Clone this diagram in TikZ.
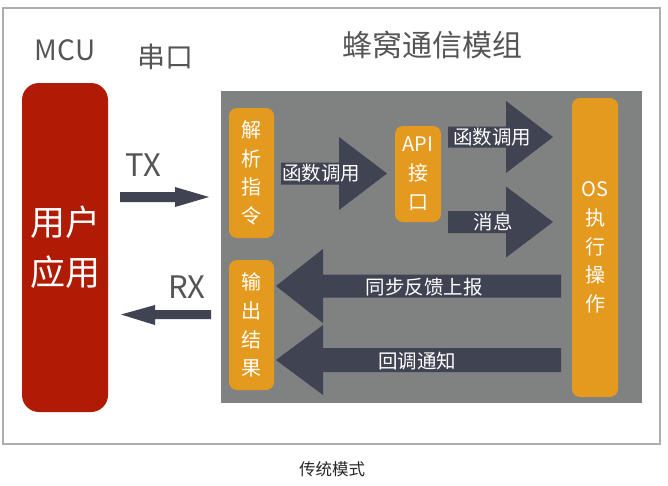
\documentclass[tikz,border=0pt]{standalone}
\usepackage{fontspec}
\setmainfont{Noto Sans CJK SC}
\definecolor{panelgray}{HTML}{808281}
\definecolor{boxorange}{HTML}{E49A1E}
\definecolor{arrowdark}{HTML}{3F4352}
\definecolor{appred}{HTML}{B01B05}
\definecolor{titlegray}{HTML}{555555}
\newcommand{\myfatarrow}[8]{%
  \fill[arrowdark] (#1,#4-#5) -- (#2,#4-#5) -- (#2,#4-#6) -- (#3,#4) -- (#2,#4+#6) -- (#2,#4+#5) -- (#1,#4+#5) -- cycle;
  \node[arrowlabel] at (#7,#4) {#8};}
\begin{document}
\begin{tikzpicture}[x=1pt,y=-1pt,
  orangebox/.style={fill=boxorange, rounded corners=8pt, inner sep=0pt, text=white, align=center,
    font=\fontsize{20}{28.8}\selectfont},
  arrowlabel/.style={text=white, inner sep=0pt, font=\fontsize{19.5}{22}\selectfont},
  titletext/.style={text=titlegray, inner sep=0pt}]
\useasboundingbox (0,0) rectangle (668,485);
% outer frame
\draw[draw=black!32, line width=1.3pt] (3,8) rectangle (660,444);
% titles
\node[titletext, font=\fontsize{28}{30}\selectfont] (mcu) at (65,50) {MCU};
\node[titletext, font=\fontsize{28}{30}\selectfont] (uart) at (165,57) {串口};
\node[titletext, font=\fontsize{30}{32}\selectfont] (module) at (432,45) {蜂窝通信模组};
% MCU application box
\node[fill=appred, rounded corners=17pt, minimum width=86pt, minimum height=329pt, inner sep=0pt,
  text=white, align=center, font=\fontsize{35}{50}\selectfont] (app) at (65,247.5) {用户\\应用};
% gray panel
\node[fill=panelgray, minimum width=421pt, minimum height=312pt, inner sep=0pt] (panel) at (431.5,247) {};
% orange boxes
\node[orangebox, minimum width=45pt, minimum height=130pt] (parse) at (251.5,173) {解\\析\\指\\令};
\node[orangebox, minimum width=45pt, minimum height=130pt] (out) at (251.5,325) {输\\出\\结\\果};
\node[orangebox, minimum width=46pt, minimum height=96pt] (api) at (418,174) {API\\接\\口};
\node[orangebox, minimum width=46pt, minimum height=299pt] (os) at (595,247.5) {OS\\执\\行\\操\\作};
% TX / RX
\node[titletext, font=\fontsize{31}{32}\selectfont] (tx) at (143,165) {TX};
\node[titletext, font=\fontsize{31}{32}\selectfont] (rx) at (187,287) {RX};
\fill[arrowdark] (120,192) -- (175,192) -- (175,187) -- (209,197) -- (175,207) -- (175,202) -- (120,202) -- cycle;
\fill[arrowdark] (211,310) -- (155,310) -- (155,305) -- (121,314.5) -- (155,325) -- (155,319) -- (211,319) -- cycle;
% fat arrows inside the module
\myfatarrow{281}{339}{387}{173.5}{11}{36.5}{321}{函数调用}
\myfatarrow{448}{506}{553}{137}{10.5}{36}{492}{函数调用}
\myfatarrow{448}{506}{553}{222}{11}{35.5}{493}{消息}
\fill[arrowdark] (561,274.5) -- (323,274.5) -- (323,249) -- (276,286) -- (323,323) -- (323,297.5) -- (561,297.5) -- cycle;
\node[arrowlabel] (sync) at (424,287) {同步反馈上报};
\fill[arrowdark] (561,348) -- (323,348) -- (323,325) -- (276,360) -- (323,395) -- (323,372) -- (561,372) -- cycle;
\node[arrowlabel] (cb) at (417,361) {回调通知};
% caption
\node[text=black!85, inner sep=0pt, font=\fontsize{16.5}{18}\selectfont] (cap) at (332,469) {传统模式};
\end{tikzpicture}
\end{document}
